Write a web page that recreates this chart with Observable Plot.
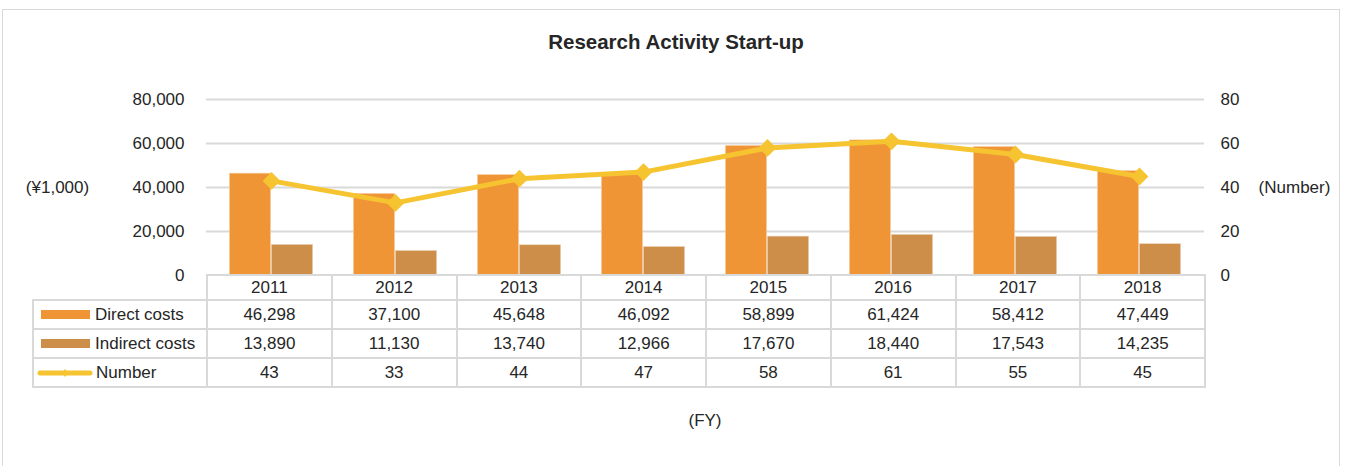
<!DOCTYPE html>
<html><head><meta charset="utf-8">
<script src="https://cdn.jsdelivr.net/npm/d3@7"></script>
<script src="https://cdn.jsdelivr.net/npm/@observablehq/plot@0.6"></script>
<style>
body{margin:0;background:#fff;font-family:"Liberation Sans",Arial,sans-serif;color:#262626;}
#wrap{position:relative;width:1349px;height:466px;overflow:hidden;}
#frame{position:absolute;left:2px;top:9px;width:1338px;height:520px;border:1.5px solid #d9d9d9;box-sizing:border-box;}
#title{position:absolute;left:0;width:1352px;top:30px;text-align:center;font-weight:bold;font-size:20.5px;}
#chart{position:absolute;left:0;top:0;}
#tbl{position:absolute;left:32px;top:274px;border-collapse:collapse;table-layout:fixed;font-size:17px;width:1173px;}
#tbl td{border:2px solid #d9d9d9;text-align:center;padding:0;white-space:nowrap;overflow:hidden;}
#tbl td.lab{text-align:left;}
#tbl tr.hd{height:25px;}
#tbl tr.rw{height:29px;}
.sw{display:inline-block;width:49px;height:9px;margin:0 5px 0 7px;vertical-align:1px;}
#fy{position:absolute;top:411px;left:0;width:1410px;text-align:center;font-size:17px;}
</style></head>
<body>
<div id="wrap">
  <div id="frame"></div>
  <div id="title">Research Activity Start-up</div>
  <div id="chart"></div>
  <table id="tbl"></table>
  <div id="fy">(FY)</div>
</div>
<script>
const years = ["2011","2012","2013","2014","2015","2016","2017","2018"];
const directCosts = [46298, 37100, 45648, 46092, 58899, 61424, 58412, 47449];
const indirectCosts = [13890, 11130, 13740, 12966, 17670, 18440, 17543, 14235];
const numbers = [43, 33, 44, 47, 58, 61, 55, 45];
const leftTicks = [0, 20000, 40000, 60000, 80000];
const seriesNames = ["Direct costs", "Indirect costs", "Number"];

const dCol = "#F09536", iCol = "#CC8E48", lCol = "#F6C430";
const ratio = 1000; // right axis (Number) maps onto left axis (¥1,000)

const rows = years.map((y, i) => ({year: y, direct: directCosts[i], indirect: indirectCosts[i], number: numbers[i]}));

const W = 1349, mL = 206, mR = 145;
const band = (W - mL - mR) / years.length;
const barW = 42;
const gap = (band - 2 * barW) / 2;

const chart = Plot.plot({
  width: W, height: 300,
  marginLeft: mL, marginRight: mR, marginTop: 99, marginBottom: 25,
  style: {fontFamily: '"Liberation Sans", Arial, sans-serif', fontSize: "17px", color: "#262626", background: "transparent", overflow: "visible"},
  x: {type: "band", domain: years, paddingInner: 0, paddingOuter: 0, axis: null},
  y: {domain: [0, 80000]},
  marks: [
    Plot.gridY(leftTicks.slice(1), {stroke: "#d9d9d9", strokeOpacity: 1, strokeWidth: 2}),
    Plot.axisY(leftTicks, {tickSize: 0, tickPadding: 22, tickFormat: d3.format(","), label: null}),
    Plot.axisY(leftTicks, {anchor: "right", tickSize: 0, tickPadding: 16, tickFormat: d => d / ratio, label: null}),
    Plot.text(["(¥1,000)"], {frameAnchor: "left", dx: -149, textAnchor: "middle"}),
    Plot.text(["(Number)"], {frameAnchor: "right", dx: 90, textAnchor: "middle"}),
    Plot.barY(rows, {x: "year", y: "direct", fill: dCol, stroke: "#f7d2ac", strokeWidth: 0.6, insetLeft: gap, insetRight: gap + barW}),
    Plot.barY(rows, {x: "year", y: "indirect", fill: iCol, stroke: "#ecd3b8", strokeWidth: 0.6, insetLeft: gap + barW, insetRight: gap}),
    Plot.line(rows, {x: "year", y: d => d.number * ratio, stroke: lCol, strokeWidth: 5}),
    Plot.dot(rows, {x: "year", y: d => d.number * ratio, symbol: "diamond2", r: 8, fill: lCol, stroke: null})
  ]
});
document.getElementById("chart").appendChild(chart);

// Data table
const fmt = d3.format(",");
const tbl = document.getElementById("tbl");
let html = `<colgroup><col style="width:174px">${years.map(() => `<col style="width:${band}px">`).join("")}</colgroup>`;
html += `<tr class="hd"><td style="border-top:none;border-left:none"></td>${years.map(y => `<td>${y}</td>`).join("")}</tr>`;
const swatches = [
  `<span class="sw" style="background:${dCol}"></span>`,
  `<span class="sw" style="background:${iCol}"></span>`,
  `<svg width="56" height="12" style="margin:0 3px 0 3px;vertical-align:-1px"><line x1="3" y1="6" x2="53" y2="6" stroke="${lCol}" stroke-width="5" stroke-linecap="round"/><path d="M28 2 L31 6 L28 10 L25 6 Z" fill="${lCol}"/></svg>`
];
const series = [directCosts, indirectCosts, numbers];
series.forEach((vals, k) => {
  html += `<tr class="rw"><td class="lab">${swatches[k]}${seriesNames[k]}</td>${vals.map(v => `<td>${fmt(v)}</td>`).join("")}</tr>`;
});
tbl.innerHTML = html;
</script>
</body></html>
